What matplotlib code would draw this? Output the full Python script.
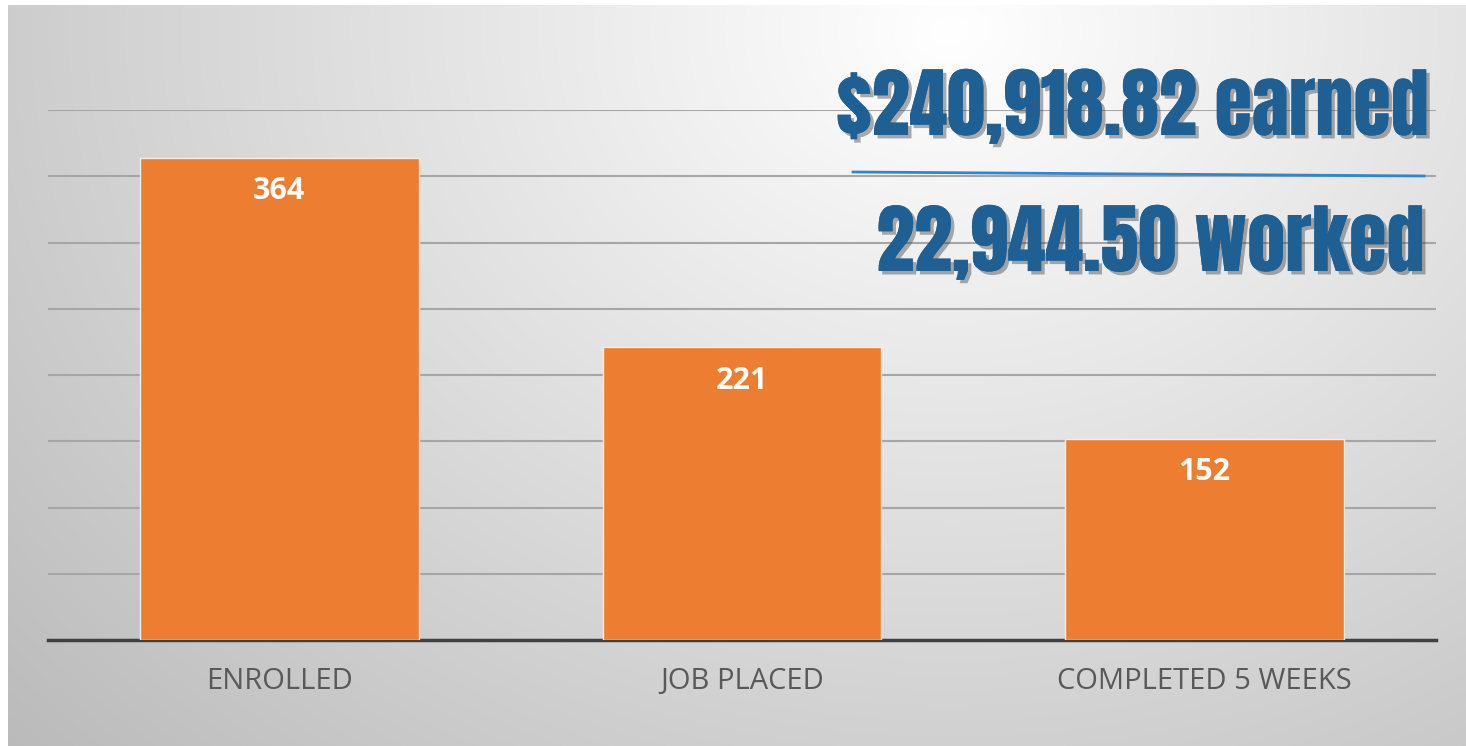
import matplotlib
matplotlib.use("Agg")
import matplotlib.pyplot as plt
import matplotlib.patheffects as pe
import numpy as np

categories = ["ENROLLED", "JOB PLACED", "COMPLETED 5 WEEKS"]
counts = [364, 221, 152]
y_ticks = [50, 100, 150, 200, 250, 300, 350, 400]
headline_earned = "$240,918.82 earned"
headline_worked = "22,944.50 worked"

W, H = 1466, 746
fig = plt.figure(figsize=(W / 100, H / 100), dpi=100)

# background: soft radial grey gradient, light near the top right
bg = fig.add_axes([0, 0, 1, 1])
yy, xx = np.mgrid[0:H, 0:W]
d = np.sqrt(((xx - 950) / 1100.0) ** 2 + ((yy - 30) / 900.0) ** 2)
shade = 1.0 - 0.24 * np.clip(d, 0, 1.2) / 1.2 * 1.15
img = np.dstack([shade, shade, shade])
img[:5, :] = 1.0
img[:, :8] = 1.0
bg.imshow(img, extent=[0, W, H, 0], aspect="auto")
bg.set_xlim(0, W)
bg.set_ylim(H, 0)
bg.axis("off")

ax = fig.add_axes([48 / W, (H - 640) / H, (1436 - 48) / W, (640 - 110) / H])
ax.patch.set_alpha(0)
x = np.arange(len(categories))
ax.bar(x, counts, width=0.603, color="#ED7D31", edgecolor="#F5EDE6", linewidth=1, zorder=3)
ax.set_xlim(-0.5, 2.5)
ax.set_ylim(0, 400)
ax.set_yticks(y_ticks)
ax.yaxis.grid(True, color="#A6A6A6", linewidth=1.5, zorder=0)
ax.tick_params(axis="y", left=False, labelleft=False)
ax.tick_params(axis="x", bottom=False, pad=16)
ax.set_xticks(x)
ax.set_xticklabels(categories, fontsize=21, color="#595959", family="Open Sans")
for s in ["top", "right", "left"]:
    ax.spines[s].set_visible(False)
ax.spines["bottom"].set_color("#404040")
ax.spines["bottom"].set_linewidth(2.5)

# value labels inside the bars
for xi, v in zip(x, counts):
    ax.annotate(str(v), (xi, v), xytext=(0, -24), textcoords="offset points",
                ha="center", va="center", color="white", fontsize=22,
                fontweight="bold", family="Open Sans", zorder=4)

# headline totals
shadow = [pe.withSimplePatchShadow(offset=(2.5, -2.5), alpha=0.4, shadow_rgbFace="#333333"), pe.Normal()]
fig.text(1428 / W, 1 - 107 / H, headline_earned, ha="right", va="center",
         fontsize=55, color="#1F6094", family="Anton", path_effects=shadow)
fig.text(1424 / W, 1 - 243 / H, headline_worked, ha="right", va="center",
         fontsize=55, color="#1F6094", family="Anton", path_effects=shadow)
fig.add_artist(plt.Line2D([853 / W, 1424 / W], [1 - 172 / H, 1 - 176 / H],
                          color="#2E86D0", linewidth=2))

fig.savefig("out.png", dpi=100)
